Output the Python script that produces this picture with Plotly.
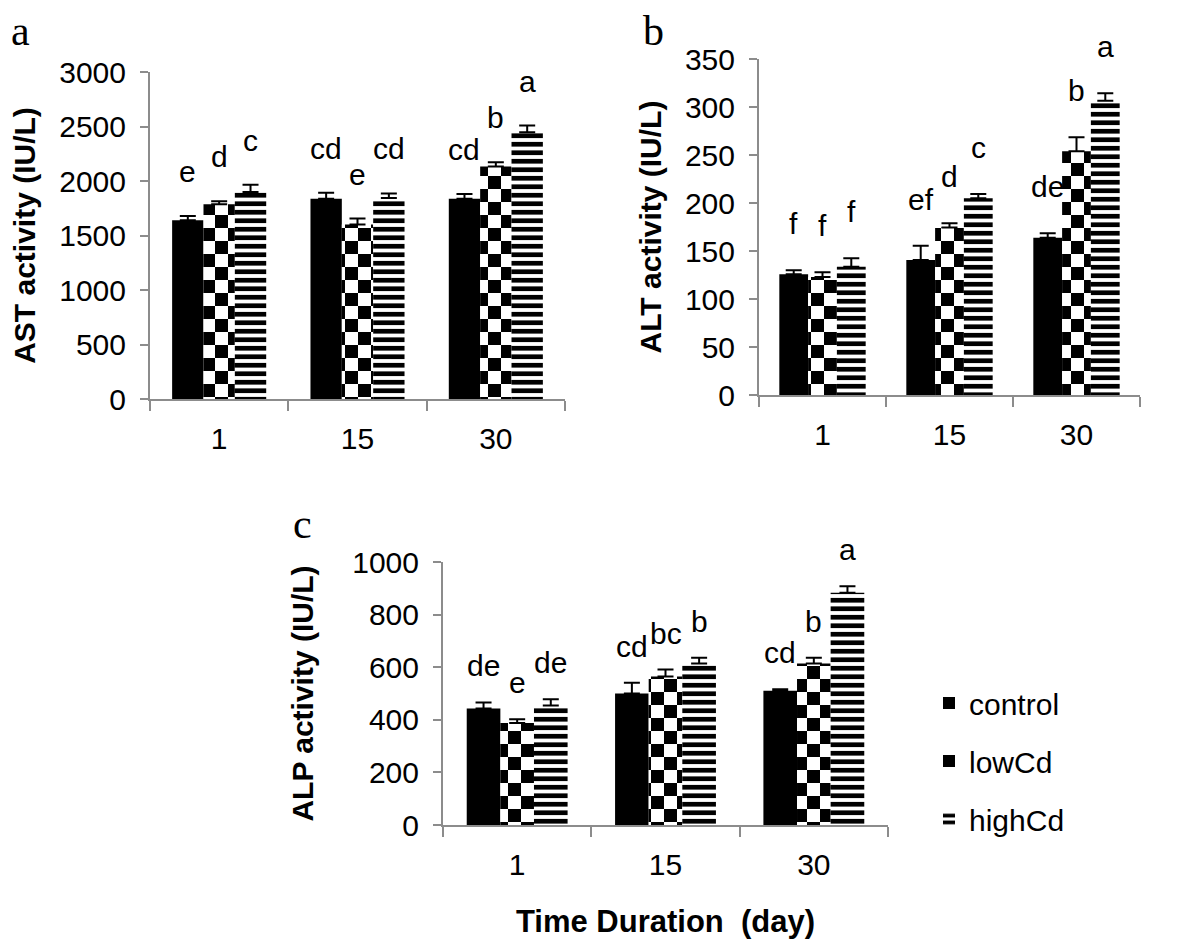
import plotly.graph_objects as go

days = ["1", "15", "30"]
series = ["control", "lowCd", "highCd"]

ast_mean = {"control": [1640, 1838, 1838], "lowCd": [1786, 1602, 2134], "highCd": [1898, 1843, 2448]}
ast_err = {"control": [40, 55, 42], "lowCd": [28, 53, 39], "highCd": [68, 43, 61]}
ast_letters = {"control": ["e", "cd", "cd"], "lowCd": ["d", "e", "b"], "highCd": ["c", "cd", "a"]}

alt_mean = {"control": [125.7, 140.6, 163.9], "lowCd": [123, 174.6, 254], "highCd": [133.6, 204.9, 306.6]}
alt_err = {"control": [4.3, 14.9, 4.5], "lowCd": [4.8, 4.2, 14.4], "highCd": [8.8, 4.5, 7.7]}
alt_letters = {"control": ["f", "ef", "de"], "lowCd": ["f", "d", "b"], "highCd": ["f", "c", "a"]}

alp_mean = {"control": [443, 500, 510], "lowCd": [388, 565, 614], "highCd": [454, 614, 883]}
alp_err = {"control": [23, 41, 6], "lowCd": [14, 26, 22], "highCd": [24, 22, 25]}
alp_letters = {"control": ["de", "cd", "cd"], "lowCd": ["e", "bc", "b"], "highCd": ["de", "b", "a"]}

# the page body has an 8px margin, so the figure is drawn 8px smaller and coordinates shifted
OFF = 8
W, H = 1200 - OFF, 943 - OFF
FONT = "Liberation Sans, Arial, sans-serif"
AXCOL = "#8c8c8c"
BARGAP = 0.32

CHECK = "M0,0H13V13H0Z M13,13H26V26H13Z"
styles = {
    "control": dict(color="black"),
    "lowCd": dict(color="white", pattern=dict(path=CHECK, fgcolor="black", bgcolor="white", size=26, fillmode="replace")),
    "highCd": dict(color="white", pattern=dict(shape="-", fgcolor="black", bgcolor="white", size=8.5, solidity=0.55, fillmode="replace")),
}

# panel pixel boxes in reference image: (x0, x1, y_top, y_bottom)
panels = [
    dict(mean=ast_mean, err=ast_err, letters=ast_letters, title="AST activity (IU/L)",
         box=(150, 565, 72, 399), rng=[0, 3000], dtick=500, xa="x", ya="y", standoff=41, lift=26),
    dict(mean=alt_mean, err=alt_err, letters=alt_letters, title="ALT activity (IU/L)",
         box=(759, 1140, 59, 395), rng=[0, 350], dtick=50, xa="x2", ya="y2", standoff=14, lift=28),
    dict(mean=alp_mean, err=alp_err, letters=alp_letters, title="ALP activity (IU/L)",
         box=(443, 888, 562, 825), rng=[0, 1000], dtick=200, xa="x3", ya="y3", standoff=30, lift=18),
]


def px_x(v):
    return (v - OFF) / W


def px_y(v):
    return 1 - (v - OFF) / H


fig = go.Figure()
annotations = []
for pi, p in enumerate(panels):
    x0, x1, yt, yb = p["box"]
    bar_px = (x1 - x0) / 3 * (1 - BARGAP) / 3
    for si, s in enumerate(series):
        fig.add_trace(go.Bar(
            x=days, y=p["mean"][s], name=s,
            xaxis=p["xa"], yaxis=p["ya"],
            marker=dict(**styles[s], line=dict(width=0)),
            error_y=dict(type="data", symmetric=False, array=p["err"][s], arrayminus=[0, 0, 0],
                         color="black", thickness=2, width=8),
            showlegend=(pi == 2), legendgroup=s,
        ))
        for di, d in enumerate(days):
            annotations.append(dict(
                x=di, y=p["mean"][s][di] + p["err"][s][di], xref=p["xa"], yref=p["ya"],
                text=p["letters"][s][di], showarrow=False, xanchor="center", yanchor="bottom",
                xshift=(si - 1) * bar_px, yshift=p["lift"],
                font=dict(family=FONT, size=30, color="black"),
            ))
    sfx = "" if pi == 0 else str(pi + 1)
    fig.layout["xaxis" + sfx] = dict(
        domain=[px_x(x0), px_x(x1)], anchor=p["ya"], type="category", tickson="boundaries",
        range=[-0.5, 2.5], automargin=False, tickangle=0,
        ticks="outside", ticklen=10, tickwidth=2, tickcolor=AXCOL, showline=True, linecolor=AXCOL,
        linewidth=2, showgrid=False, zeroline=False, tickfont=dict(family=FONT, size=30, color="black"),
        ticklabelstandoff=12, fixedrange=True,
    )
    fig.layout["yaxis" + sfx] = dict(
        domain=[px_y(yb), px_y(yt)], anchor=p["xa"], range=p["rng"], dtick=p["dtick"],
        automargin=False, ticklabelstandoff=8,
        ticks="outside", ticklen=8, tickwidth=2, tickcolor=AXCOL, showline=True, linecolor=AXCOL,
        linewidth=2, showgrid=False, zeroline=False, tickfont=dict(family=FONT, size=30, color="black"),
        title=dict(text="<b>" + p["title"] + "</b>", font=dict(family=FONT, size=30, color="black"),
                   standoff=p["standoff"]),
        fixedrange=True,
    )

fig.layout["xaxis3"]["title"] = dict(text="<b>Time Duration  (day)</b>", font=dict(family=FONT, size=31, color="black"), standoff=30)

for lab, px, py in [("a", 20, 31), ("b", 653, 31), ("c", 302, 524)]:
    annotations.append(dict(x=px_x(px), y=px_y(py), xref="paper", yref="paper", text=lab, showarrow=False,
                            xanchor="center", yanchor="middle", borderpad=0,
                            font=dict(family="Liberation Serif, Times New Roman, serif", size=42, color="black")))

fig.update_layout(
    template="none",
    width=W, height=H, margin=dict(l=0, r=0, t=0, b=0, autoexpand=False),
    paper_bgcolor="white", plot_bgcolor="white",
    barmode="group", bargap=BARGAP, bargroupgap=0,
    annotations=annotations,
    legend=dict(x=px_x(929), y=px_y(677), xanchor="left", yanchor="top",
                font=dict(family=FONT, size=30, color="black"), traceorder="grouped",
                tracegroupgap=16, bgcolor="rgba(0,0,0,0)"),
    font=dict(family=FONT),
)

fig.write_html("out.html")
